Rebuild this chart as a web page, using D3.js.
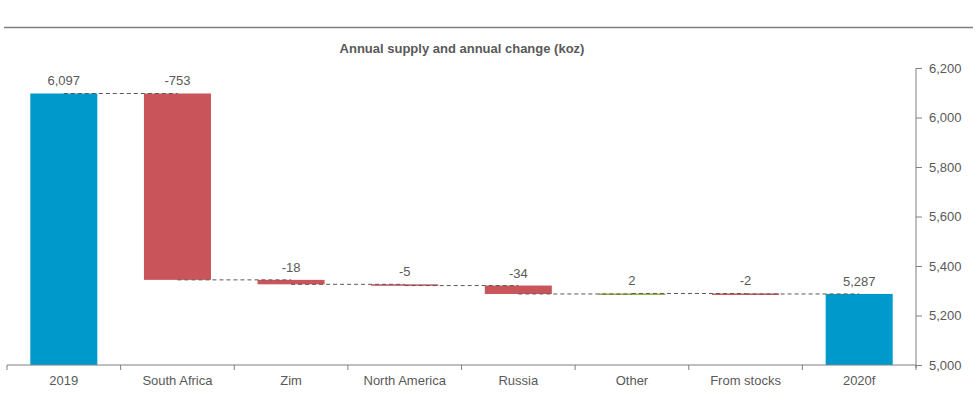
<!DOCTYPE html>
<html>
<head>
<meta charset="utf-8">
<script src="https://cdn.jsdelivr.net/npm/d3@7"></script>
<style>
  body { margin: 0; background: #fff; }
  svg { display: block; font-family: "Liberation Sans", Arial, sans-serif; }
  .lbl { fill: #595959; font-size: 13px; }
</style>
</head>
<body>
<svg id="chart" width="978" height="408"></svg>
<script>
const categories = ["2019", "South Africa", "Zim", "North America", "Russia", "Other", "From stocks", "2020f"];
const values = [6097, -753, -18, -5, -34, 2, -2, 5287];
const kinds = ["total", "delta", "delta", "delta", "delta", "delta", "delta", "total"];
const yTicks = [5000, 5200, 5400, 5600, 5800, 6000, 6200];

const colors = { total: "#0099cc", down: "#c9555a", up: "#8db33f" };

const svg = d3.select("#chart");

const x = d3.scaleBand().domain(categories).range([7, 916]).paddingInner(0.41).paddingOuter(0.205);
const y = d3.scaleLinear().domain([5000, 6200]).range([365, 68]);

// build waterfall steps
let run = 0;
const steps = categories.map((c, i) => {
  const v = values[i];
  let start, end;
  if (kinds[i] === "total") { start = 5000; end = v; run = v; }
  else { start = run; end = run + v; run = end; }
  return { c, v, start, end, kind: kinds[i] };
});

// top rule and title
svg.append("line").attr("x1", 4).attr("x2", 973).attr("y1", 27.5).attr("y2", 27.5)
  .attr("stroke", "#7f7f7f").attr("stroke-width", 1.5);
svg.append("text").attr("x", 462).attr("y", 53).attr("text-anchor", "middle")
  .attr("fill", "#595959").attr("font-size", 13).attr("font-weight", "bold")
  .text("Annual supply and annual change (koz)");

// bars
svg.append("g").selectAll("rect").data(steps).join("rect")
  .attr("x", d => x(d.c))
  .attr("width", x.bandwidth())
  .attr("y", d => y(Math.max(d.start, d.end)))
  .attr("height", d => Math.max(1.5, Math.abs(y(d.start) - y(d.end))))
  .attr("fill", d => d.kind === "total" ? colors.total : (d.v < 0 ? colors.down : colors.up));

// connectors
const conn = steps.slice(0, -1).map((d, i) => ({ from: d.c, to: steps[i + 1].c, level: d.end }));
svg.append("g").selectAll("line").data(conn).join("line")
  .attr("x1", d => x(d.from) + x.bandwidth() / 2)
  .attr("x2", d => x(d.to) + x.bandwidth() / 2)
  .attr("y1", d => y(d.level)).attr("y2", d => y(d.level))
  .attr("stroke", "#595959").attr("stroke-width", 1).attr("stroke-dasharray", "4,3");

// value labels
const fmt = d3.format(",");
svg.append("g").selectAll("text").data(steps).join("text")
  .attr("class", "lbl")
  .attr("x", d => x(d.c) + x.bandwidth() / 2)
  .attr("y", d => y(Math.max(d.start, d.end)) - 8)
  .attr("text-anchor", "middle")
  .text(d => d.kind === "total" ? fmt(d.v) : (d.v < 0 ? "-" + fmt(-d.v) : fmt(d.v)));

// x axis
const xa = svg.append("g");
xa.append("line").attr("x1", 7).attr("x2", 916).attr("y1", 365).attr("y2", 365).attr("stroke", "#7f7f7f");
const bounds = categories.map(c => x(c) - x.step() * x.paddingInner() / 2).concat([916]);
xa.selectAll("line.t").data(bounds).join("line").attr("class", "t")
  .attr("x1", d => d).attr("x2", d => d).attr("y1", 365).attr("y2", 370).attr("stroke", "#7f7f7f");
xa.selectAll("text").data(categories).join("text").attr("class", "lbl")
  .attr("x", d => x(d) + x.bandwidth() / 2).attr("y", 385).attr("text-anchor", "middle").text(d => d);

// y axis (right)
const ya = svg.append("g").attr("transform", "translate(916,0)")
  .call(d3.axisRight(y).tickValues(yTicks).tickSize(6).tickPadding(7).tickFormat(fmt));
ya.select(".domain").attr("stroke", "#7f7f7f").attr("d", `M0,${y(6200)}V${y(5000) + 3}`);
ya.selectAll(".tick line").attr("stroke", "#7f7f7f");
ya.selectAll(".tick text").attr("fill", "#595959").attr("font-size", 13)
  .attr("font-family", "Liberation Sans, Arial, sans-serif");
</script>
</body>
</html>
